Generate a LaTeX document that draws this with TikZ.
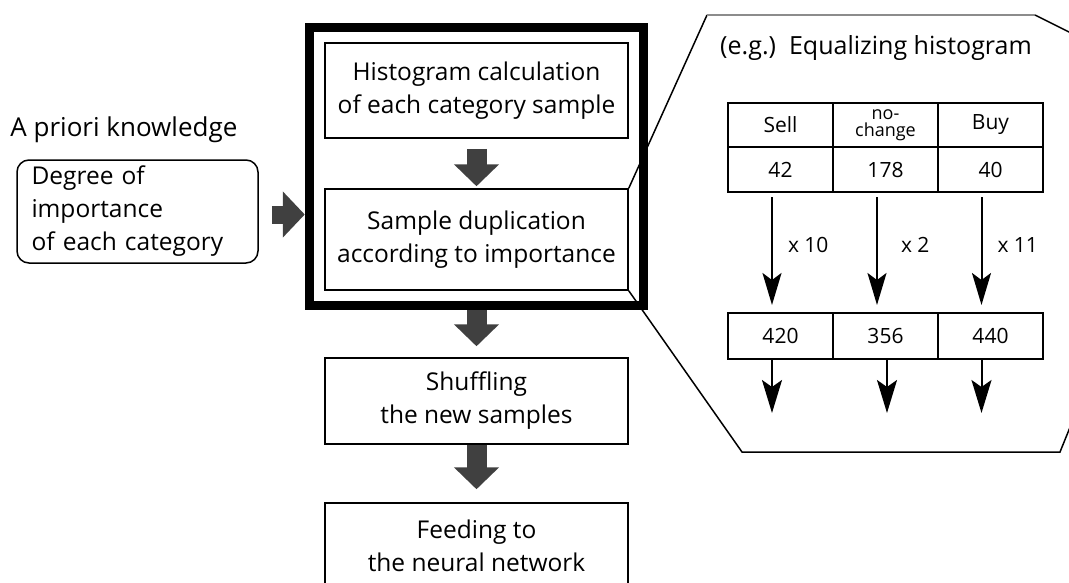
\documentclass[tikz,border=0pt]{standalone}
\usepackage{fontspec}
\setmainfont{Open Sans}
\usetikzlibrary{positioning}
\usetikzlibrary{fit}
\usetikzlibrary{arrows.meta}
\tikzset{main node/.style={shape=rectangle,
    draw, align=center, line width=1.5pt,
    minimum width=303pt, inner sep=0pt,
    font=\fontsize{24.5}{33}\selectfont}}
\tikzset{cell node/.style={shape=rectangle,
    draw, align=center, line width=1.5pt,
    minimum width=105pt, minimum height=45pt,
    inner sep=0pt, outer sep=0pt,
    font=\fontsize{21}{21}\selectfont}}
\tikzset{block arrow/.style={black!75, line width=20pt,
    -{Triangle[width=44pt,length=22pt]}}}
\tikzset{thin arrow/.style={line width=2pt,
    -{Stealth[width=19pt,length=32pt,inset=7pt]}}}
\tikzset{times label/.style={inner sep=0pt, font=\fontsize{21}{21}\selectfont}}

\begin{document}
\begin{tikzpicture}[x=1pt,y=-1pt]
    \useasboundingbox (0,0) rectangle (1069,582);
    \clip (0,0) rectangle (1069,582);

    \node[main node, minimum height=95pt] (1) at (476.5,90.5) {Histogram calculation\\of each category sample};
    \node[main node, minimum height=101pt] (2) [below = 49.5pt of 1] {Sample duplication\\according to importance};

    \node[main node, minimum height=86pt] (5) [below = 66.5pt of 2] {Shuffling\\the new samples};
    \node[main node, minimum height=85pt] (6) [below = 57.5pt of 5] {Feeding to\\the neural network};

    \node[shape=rectangle, draw, rounded corners=12pt, line width=1.5pt,
        align=left, text width=212pt, minimum width=241pt, minimum height=103pt,
        font=\fontsize{24.5}{33}\selectfont] (4) at (137.5,211.5) {Degree of\\importance\\of each category};
    \node[inner sep=0pt, font=\fontsize{26}{26}\selectfont] (7) [above right = 16pt and -6pt of 4.north west] {A priori knowledge};

    \draw[line width=1.5pt] (2.north east) -- (707,15);
    \draw[line width=1.2pt, black!45] (707,15) -- (1035,15);
    \draw[line width=1.5pt] (1035,15) -- (1075,35) -- (1075,415) -- (1060,452) -- (742,452) -- (2.south east);

    \node[draw, line width=9pt, fit=(1)(2), inner sep=15pt] (3) {};

    \node[font=\fontsize{25}{25}\selectfont] (8) at (876,48) {(e.g.)\ \ Equalizing histogram};

    \node[cell node, minimum height=44pt] (11) at (780.5,125) {Sell};
    \node[cell node, minimum height=44pt, font=\fontsize{18}{17}\selectfont] (12) [right = 0pt of 11] {no-\\change};
    \node[cell node, minimum height=44pt] (13) [right = 0pt of 12] {Buy};
    \node[cell node] (21) [below = 0pt of 11] {42};
    \node[cell node] (22) [below = 0pt of 12] {178};
    \node[cell node] (23) [below = 0pt of 13] {40};

    \node[cell node, minimum height=46pt] (31) [below = 121pt of 21] {420};
    \node[cell node, minimum height=46pt] (32) [right = 0pt of 31] {356};
    \node[cell node, minimum height=46pt] (33) [right = 0pt of 32] {440};

    \coordinate (41) at ([xshift=-8.5pt,yshift=-54pt]31.south);
    \coordinate (42) at ([xshift=1.5pt,yshift=-54pt]32.south);
    \coordinate (43) at ([xshift=-9pt,yshift=-54pt]33.south);

    \path[block arrow]
    (1) edge[shorten <=10pt, shorten >=2pt] (2)
    (3) edge[shorten >=11pt] (5)
    (5) edge[shorten >=13pt] (6)
    ;
    \draw[block arrow, line width=18pt, -{Triangle[width=45pt,length=22pt]}, shorten <=13pt]
        ([yshift=-3pt]4.east) -- ([yshift=-3pt]4.east -| 3.west);

    \draw[thin arrow, shorten <=5pt, shorten >=8pt] ([xshift=-8.5pt]21.south) -- ([xshift=-8.5pt]31.north)
        node[times label, midway, right=15pt, yshift=8pt] {x 10};
    \draw[thin arrow, shorten <=5pt, shorten >=8pt] ([xshift=-8.5pt]22.south) -- ([xshift=-8.5pt]32.north)
        node[times label, midway, right=23pt, yshift=8pt] {x 2};
    \draw[thin arrow, shorten <=5pt, shorten >=8pt] ([xshift=-9pt]23.south) -- ([xshift=-9pt]33.north)
        node[times label, midway, right=15pt, yshift=8pt] {x 11};

    \path[thin arrow, -{Stealth[width=20pt,length=33pt,inset=7pt]}]
    ([xshift=-8.5pt]31.south) edge (41)
    ([xshift=1.5pt]32.south) edge (42)
    ([xshift=-9pt]33.south) edge (43)
    ;
\end{tikzpicture}
\end{document}
